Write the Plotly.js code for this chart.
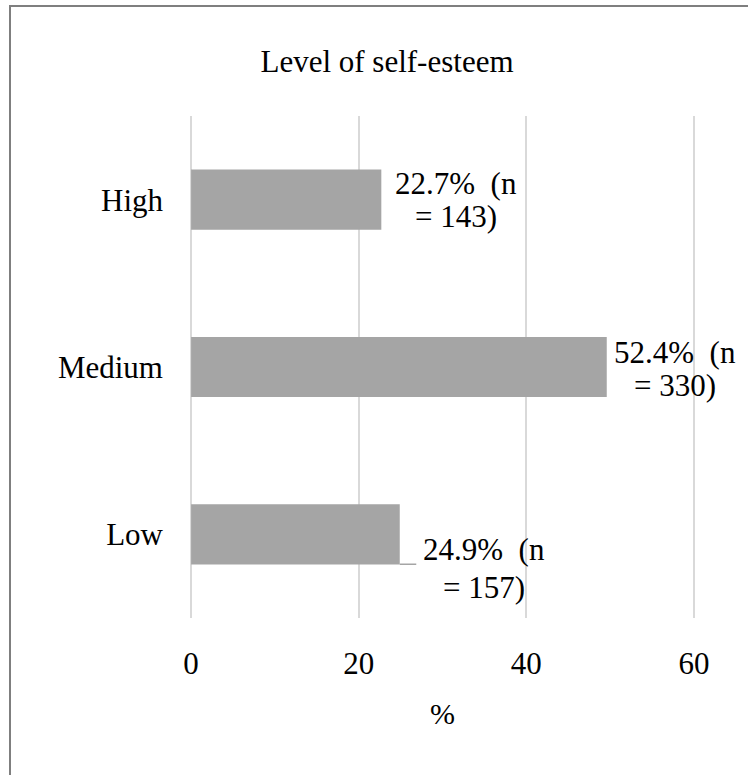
<!DOCTYPE html>
<html>
<head>
<meta charset="utf-8">
<script src="https://cdn.plot.ly/plotly-3.0.1.min.js"></script>
<style>
html,body{margin:0;padding:0;background:#fff;}
#wrap{position:relative;width:748px;height:775px;overflow:hidden;}
#chart{width:748px;height:775px;}
#frame{position:absolute;left:9px;top:5px;width:800px;height:820px;border:2px solid #7f7f7f;box-sizing:border-box;pointer-events:none;}
</style>
</head>
<body>
<div id="wrap"><div id="chart"></div><div id="frame"></div></div>
<script>
// ---- data ----
const categories = ["Low", "Medium", "High"];
const barValues = [24.9, 49.6, 22.7];
const labelPct = ["24.9%", "52.4%", "22.7%"];
const labelN = ["157", "330", "143"];
const xTicks = [0, 20, 40, 60];

// ---- label placement (pixel offsets from each bar end; style only) ----
const labelDX = [84, 68, 75];
const labelDY1 = [-15, 15, 16];
const labelDY2 = [-53, -18, -17];

const serif = "Liberation Serif";
const labelFont = {family: serif, size: 31, color: "#000"};

const annotations = [];
categories.forEach((c, i) => {
  annotations.push({
    x: barValues[i], y: c, xref: "x", yref: "y",
    text: labelPct[i] + "  (n",
    showarrow: false, xanchor: "center", yanchor: "middle",
    xshift: labelDX[i], yshift: labelDY1[i], font: labelFont
  });
  annotations.push({
    x: barValues[i], y: c, xref: "x", yref: "y",
    text: "= " + labelN[i] + ")",
    showarrow: false, xanchor: "center", yanchor: "middle",
    xshift: labelDX[i], yshift: labelDY2[i], font: labelFont
  });
});
// leader line for the Low label
annotations.push({
  x: barValues[0], y: categories[0], xref: "x", yref: "y",
  text: "", showarrow: true, arrowhead: 0, arrowwidth: 1.5,
  arrowcolor: "#a5a5a5", ax: 18, ay: 0, yshift: -30
});

const trace = {
  type: "bar", orientation: "h",
  y: categories, x: barValues,
  width: 0.36,
  marker: {color: "#a5a5a5"},
  hoverinfo: "skip"
};

const layout = {
  width: 748, height: 775,
  margin: {l: 189, r: 52, t: 116, b: 157},
  paper_bgcolor: "#fff", plot_bgcolor: "#fff",
  showlegend: false,
  font: {family: serif, color: "#000"},
  title: {text: "Level of self-esteem", x: 387/748, xanchor: "center", y: 1 - 61/775, yanchor: "middle",
    font: {family: serif, size: 31, color: "#000"}},
  xaxis: {
    range: [-0.25, 60.25], tickvals: xTicks, ticktext: xTicks.map(String),
    showgrid: true, gridcolor: "#d9d9d9", gridwidth: 2,
    zeroline: false, showline: false, ticks: "",
    tickfont: {family: serif, size: 31, color: "#000"},
    ticklabelstandoff: 24,
    title: {text: "%", font: {family: serif, size: 30, color: "#000"}, standoff: 22}
  },
  yaxis: {
    categoryorder: "array", categoryarray: categories,
    range: [-0.5, 2.5],
    showgrid: false, zeroline: false, showline: false, ticks: "",
    tickfont: {family: serif, size: 31, color: "#000"},
    ticklabelstandoff: 25
  },
  annotations: annotations
};

Plotly.newPlot("chart", [trace], layout, {displayModeBar: false, staticPlot: true});
</script>
</body>
</html>
